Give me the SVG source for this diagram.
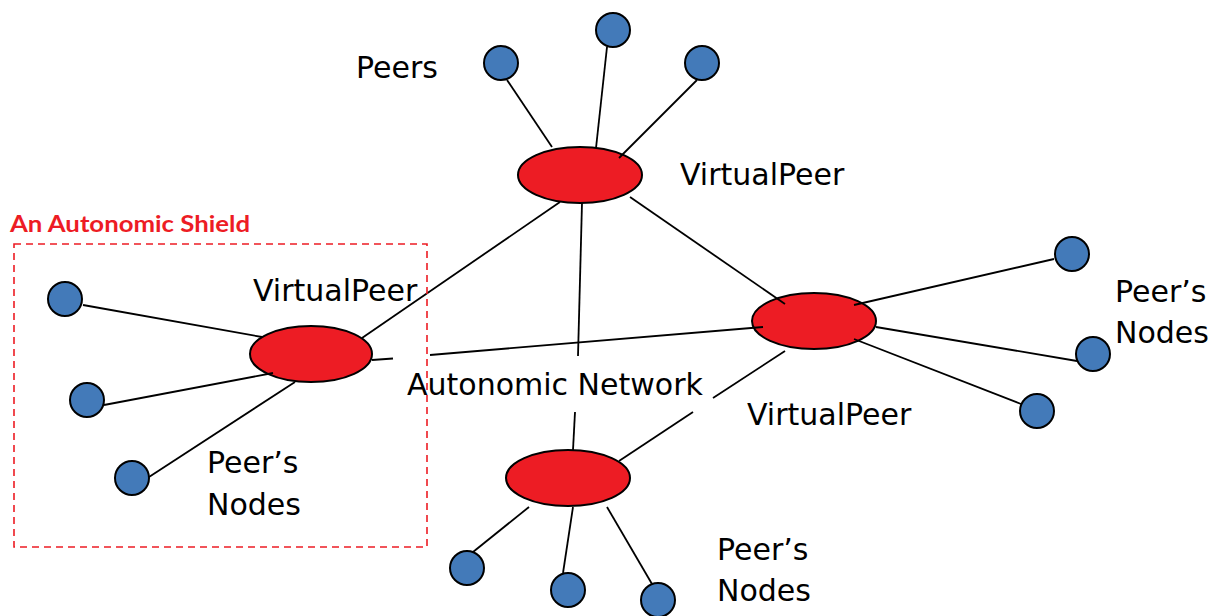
<svg xmlns="http://www.w3.org/2000/svg" width="1220" height="616" viewBox="0 0 1220 616">
<style>
.vp{fill:#ED1C24;stroke:#000;stroke-width:2}
.pn{fill:#437AB9;stroke:#000;stroke-width:2}
.ln{stroke:#000;stroke-width:1.8;fill:none}
.t{font-family:"DejaVu Sans",sans-serif;font-size:30px;fill:#000}
.shield{fill:none;stroke:#ED1C24;stroke-width:1.6;stroke-dasharray:7 5}
.st{font-family:Lato,"Open Sans",sans-serif;font-weight:bold;font-size:23px;fill:#ED1C24}
</style>
<rect width="1220" height="616" fill="#fff"/>
<g id="vp-top"><ellipse class="vp" cx="580" cy="175" rx="62" ry="28"/></g>
<g id="vp-left"><ellipse class="vp" cx="311" cy="354" rx="61" ry="28"/></g>
<g id="vp-right"><ellipse class="vp" cx="814" cy="321" rx="62" ry="28"/></g>
<g id="vp-bottom"><ellipse class="vp" cx="568" cy="478" rx="62" ry="28"/></g>
<g id="connectors">
<line class="ln" x1="507" y1="80" x2="552" y2="147"/>
<line class="ln" x1="607" y1="47" x2="596" y2="148"/>
<line class="ln" x1="697" y1="80" x2="619" y2="158"/>
<line class="ln" x1="560" y1="202" x2="362" y2="338"/>
<line class="ln" x1="582" y1="203" x2="578" y2="356"/>
<line class="ln" x1="575" y1="412" x2="573" y2="450"/>
<line class="ln" x1="630" y1="197" x2="785" y2="304"/>
<line class="ln" x1="83" y1="305" x2="262" y2="337"/>
<line class="ln" x1="104" y1="405" x2="273" y2="373"/>
<line class="ln" x1="149" y1="477" x2="295" y2="382"/>
<line class="ln" x1="372" y1="360" x2="393" y2="358.5"/>
<line class="ln" x1="430" y1="355" x2="763" y2="327"/>
<line class="ln" x1="785" y1="351" x2="713" y2="398"/>
<line class="ln" x1="693" y1="412" x2="619" y2="461"/>
<line class="ln" x1="854" y1="305" x2="1054" y2="259"/>
<line class="ln" x1="876" y1="327" x2="1077" y2="361"/>
<line class="ln" x1="854" y1="339" x2="1021" y2="404"/>
<line class="ln" x1="529" y1="507" x2="473" y2="552"/>
<line class="ln" x1="573" y1="507" x2="563" y2="573"/>
<line class="ln" x1="607" y1="507" x2="652" y2="584"/>
</g>
<g id="peers-top">
<circle class="pn" cx="501" cy="63" r="17"/>
<circle class="pn" cx="613" cy="30" r="17"/>
<circle class="pn" cx="702" cy="63" r="17"/>
</g>
<g id="peers-left">
<circle class="pn" cx="65" cy="299" r="17"/>
<circle class="pn" cx="87" cy="400" r="17"/>
<circle class="pn" cx="132" cy="478" r="17"/>
</g>
<g id="peers-right">
<circle class="pn" cx="1072" cy="254" r="17"/>
<circle class="pn" cx="1093" cy="354" r="17"/>
<circle class="pn" cx="1037" cy="411" r="17"/>
</g>
<g id="peers-bottom">
<circle class="pn" cx="467" cy="568" r="17"/>
<circle class="pn" cx="568" cy="590" r="17"/>
<circle class="pn" cx="658" cy="600" r="17"/>
</g>
<g id="labels">
<text class="t" x="356" y="78">Peers</text>
<text class="t" x="680" y="185">VirtualPeer</text>
<text class="t" x="253" y="301">VirtualPeer</text>
<text class="t" x="207" y="473">Peer’s</text>
<text class="t" x="207" y="515">Nodes</text>
<text class="t" x="407" y="395">Autonomic Network</text>
<text class="t" x="747" y="425">VirtualPeer</text>
<text class="t" x="1115" y="302">Peer’s</text>
<text class="t" x="1115" y="343">Nodes</text>
<text class="t" x="717" y="560">Peer’s</text>
<text class="t" x="717" y="601">Nodes</text>
</g>
<g id="shield">
<rect class="shield" x="14" y="244" width="413" height="303"/>
<text class="st" x="10" y="232" textLength="240" lengthAdjust="spacingAndGlyphs">An Autonomic Shield</text>
</g>
</svg>
